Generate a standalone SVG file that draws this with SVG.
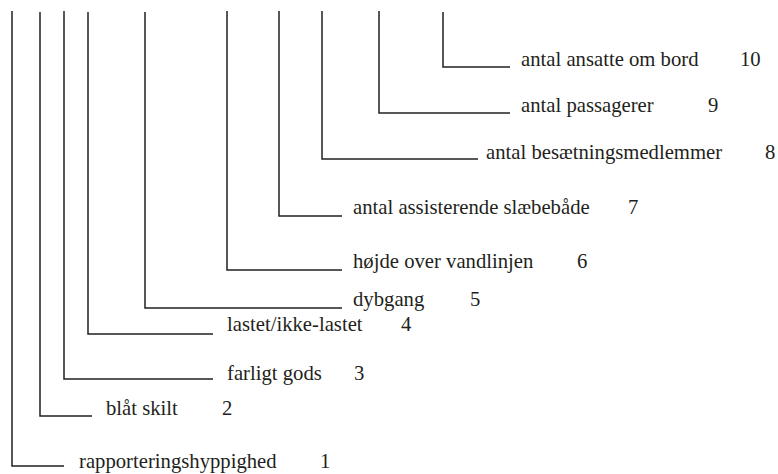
<svg xmlns="http://www.w3.org/2000/svg" width="778" height="474" viewBox="0 0 778 474">
<style>
.c{fill:none;stroke:#231f20;stroke-width:1.5}
.t{font-family:'Liberation Serif','DejaVu Serif',serif;font-size:20.7px;fill:#231f20}
</style>
<rect width="778" height="474" fill="#fff"/>
<g id="connectors">
<path class="c" d="M12 11V466H64"/>
<path class="c" d="M40 12V416H92"/>
<path class="c" d="M64 11V379H213"/>
<path class="c" d="M88 12V334H213"/>
<path class="c" d="M145 12V308H342"/>
<path class="c" d="M227 11V270H342"/>
<path class="c" d="M279 11V216H342"/>
<path class="c" d="M322 11V159H478"/>
<path class="c" d="M379 11V113H510"/>
<path class="c" d="M443 12V67H510"/>
</g>
<g id="n1" class="t" font-family="Liberation Serif, DejaVu Serif, serif"><text x="79" y="468">rapporteringshyppighed</text><text x="320" y="468">1</text></g>
<g id="n2" class="t" font-family="Liberation Serif, DejaVu Serif, serif"><text x="106" y="415">blåt skilt</text><text x="222" y="415">2</text></g>
<g id="n3" class="t" font-family="Liberation Serif, DejaVu Serif, serif"><text x="227" y="380">farligt gods</text><text x="354" y="380">3</text></g>
<g id="n4" class="t" font-family="Liberation Serif, DejaVu Serif, serif"><text x="227" y="331">lastet/ikke-lastet</text><text x="401" y="331">4</text></g>
<g id="n5" class="t" font-family="Liberation Serif, DejaVu Serif, serif"><text x="353" y="306">dybgang</text><text x="470" y="306">5</text></g>
<g id="n6" class="t" font-family="Liberation Serif, DejaVu Serif, serif"><text x="353" y="268">højde over vandlinjen</text><text x="577" y="268">6</text></g>
<g id="n7" class="t" font-family="Liberation Serif, DejaVu Serif, serif"><text x="353" y="214">antal assisterende slæbebåde</text><text x="628" y="214">7</text></g>
<g id="n8" class="t" font-family="Liberation Serif, DejaVu Serif, serif"><text x="486" y="159">antal besætningsmedlemmer</text><text x="765" y="159">8</text></g>
<g id="n9" class="t" font-family="Liberation Serif, DejaVu Serif, serif"><text x="521" y="112">antal passagerer</text><text x="708" y="112">9</text></g>
<g id="n10" class="t" font-family="Liberation Serif, DejaVu Serif, serif"><text x="521" y="66">antal ansatte om bord</text><text x="740" y="66">10</text></g>
</svg>
